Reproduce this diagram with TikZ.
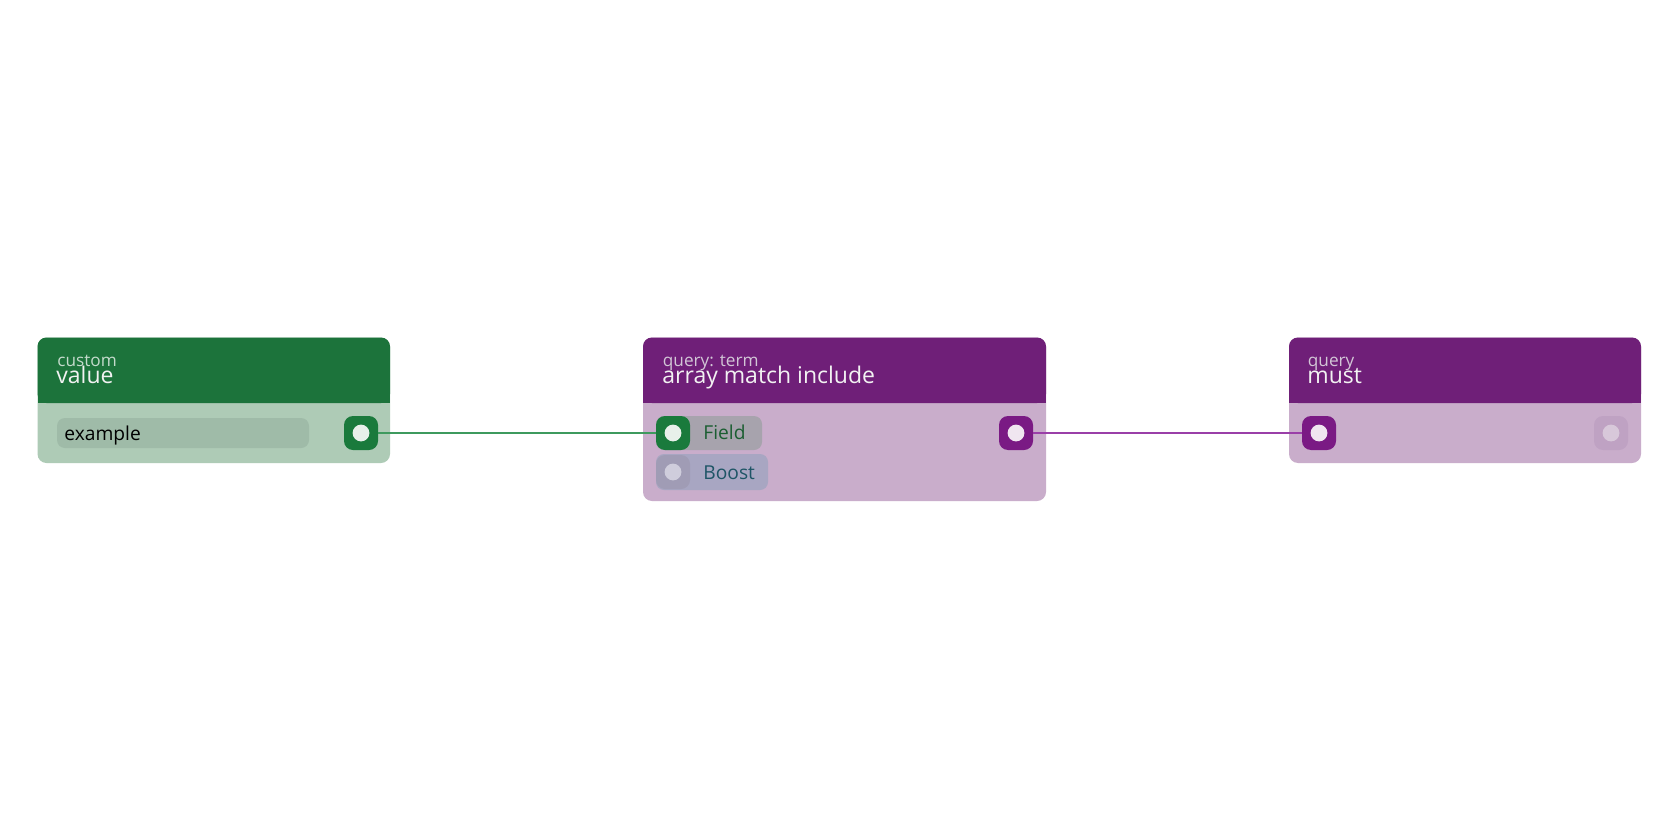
\documentclass[tikz,border=0pt]{standalone}
\usepackage{fontspec}
\setmainfont{Open Sans}
\definecolor{ghdr}{HTML}{1C733B}
\definecolor{gbody}{HTML}{AECBB6}
\definecolor{gfield}{HTML}{9FBBA8}
\definecolor{phdr}{HTML}{6F1F78}
\definecolor{pbody}{HTML}{C9ADCB}
\definecolor{pillgray}{HTML}{A7A3AD}
\definecolor{pillblue}{HTML}{A8A6C2}
\definecolor{gport}{HTML}{1A7A3C}
\definecolor{pport}{HTML}{7A1A84}
\definecolor{fport}{HTML}{BFA2C3}
\definecolor{bport}{HTML}{A09CB5}
\definecolor{gline}{HTML}{3E9A5E}
\definecolor{pline}{HTML}{9A3FA8}
\definecolor{subtxt}{HTML}{D2C6D6}
\definecolor{gsubtxt}{HTML}{C3DACB}
\definecolor{ttxt}{HTML}{F2F2F2}
\definecolor{fieldtxt}{HTML}{1B5E32}
\definecolor{boosttxt}{HTML}{1E5566}
\definecolor{gdot}{HTML}{E8F0EA}
\definecolor{bdot}{HTML}{CFCDDC}
\definecolor{pdot}{HTML}{F0E6F0}
\definecolor{fdot}{HTML}{D8C8DA}
\tikzset{
  portbox/.style={minimum size=17pt, inner sep=0pt, rounded corners=4.5pt, draw=none},
  subt/.style={anchor=base west, inner sep=0pt, font=\fontsize{8.6pt}{9pt}\selectfont},
  titlet/.style={anchor=base west, inner sep=0pt, text=ttxt, font=\fontsize{11.5pt}{12pt}\selectfont},
  lbl/.style={anchor=base west, inner sep=0pt, font=\fontsize{9.6pt}{11pt}\selectfont},
  wire/.style={line width=1pt},
}
\newcommand{\mknode}[6]{% x1 y1 x2 y2 hdrcolor bodycolor
  \fill[#6, rounded corners=4.5pt] (#1,#2) rectangle (#3,#4);
  \fill[#5, rounded corners=4.5pt] (#1,#2) rectangle (#3,403);
  \fill[#5] (#1,385) rectangle (#3,403);
}
\begin{document}
\begin{tikzpicture}[x=0.5pt,y=-0.5pt]
\useasboundingbox[fill=white] (0,0) rectangle (1680,840);
% node bodies
\mknode{37.5}{337.5}{390}{463}{ghdr}{gbody}
\mknode{643}{337.5}{1046}{501}{phdr}{pbody}
\mknode{1289}{337.5}{1641}{463}{phdr}{pbody}
% header texts
\node[subt, text=gsubtxt] (t1a) at (57,366) {custom};
\node[titlet] (t1b) at (56,383.5) {value};
\node[subt, text=subtxt] (t2a) at (662.5,366) {query: term};
\node[titlet] (t2b) at (662,383.5) {array match include};
\node[subt, text=subtxt] (t3a) at (1307.5,366) {query};
\node[titlet] (t3b) at (1307,383.5) {must};
% example field
\fill[gfield, rounded corners=4pt] (57,418) rectangle (309,448);
\node[lbl, text=black] (ex) at (64,440) {example};
% pills
\fill[pillgray, rounded corners=4pt] (656,416) rectangle (762,450);
\fill[pillblue, rounded corners=4pt] (656,454) rectangle (768,490);
\node[lbl, text=fieldtxt] (fl) at (703,439.5) {Field};
\node[lbl, text=boosttxt] (bl) at (703,479) {Boost};
% ports
\node[portbox, fill=gport] (vout) at (361,433) {};
\node[portbox, fill=gport] (fin) at (673,433) {};
\node[portbox, fill=bport] (bin) at (673,472) {};
\node[portbox, fill=pport] (aout) at (1016,433) {};
\node[portbox, fill=pport] (min) at (1319,433) {};
\node[portbox, fill=fport] (mout) at (1611,433) {};
% connectors
\draw[wire, gline] (vout.east) -- (fin.west);
\draw[wire, pline] (aout.east) -- (min.west);
% port dots
\fill[gdot] (vout) circle (4.2pt);
\fill[gdot] (fin) circle (4.2pt);
\fill[bdot] (bin) circle (4.2pt);
\fill[pdot] (aout) circle (4.2pt);
\fill[pdot] (min) circle (4.2pt);
\fill[fdot] (mout) circle (4.2pt);
\end{tikzpicture}
\end{document}
